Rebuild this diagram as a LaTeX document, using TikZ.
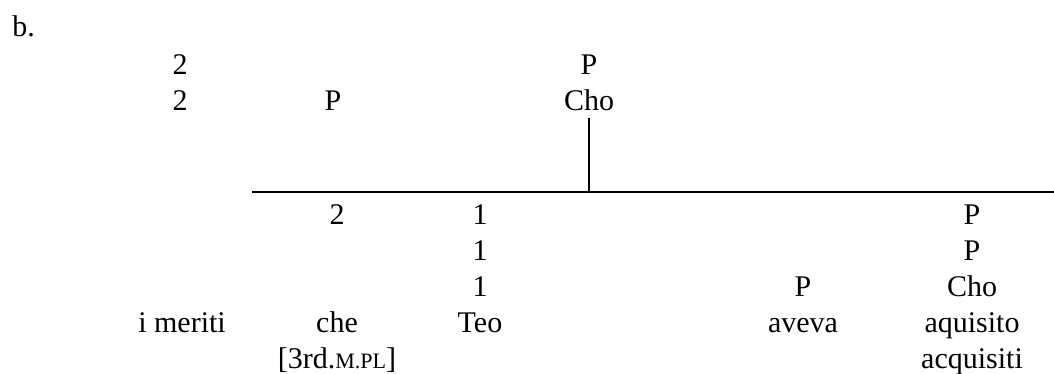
\documentclass[tikz,border=0pt]{standalone}
\usepackage{fontspec}
\setmainfont{Liberation Serif}
\newcommand{\fakesc}[1]{{\fontsize{11}{12}\selectfont #1}}
\begin{document}
\begin{tikzpicture}[x=0.5pt,y=-0.5pt,
  lbl/.style={anchor=base,inner sep=0pt,font=\fontsize{15}{18}\selectfont},
  rule/.style={line width=1.1pt}]
\useasboundingbox (0,0) rectangle (1054,374);
\node[lbl,anchor=base west] (b) at (12,37) {b.};
% top
\node[lbl] (t2a) at (180,75) {2};
\node[lbl] (t2b) at (180,111) {2};
\node[lbl] (tP) at (333,111) {P};
\node[lbl] (cP) at (589,75) {P};
\node[lbl] (cCho) at (589,111) {Cho};
% lines
\coordinate (hl) at (252,192);
\coordinate (hr) at (1054,192);
\coordinate (vt) at (589,118);
\coordinate (vb) at (589,192);
\draw[rule] (hl) -- (hr);
\draw[rule] (vt) -- (vb);
% bottom
\node[lbl] (b2) at (337,224) {2};
\node[lbl] (b1a) at (480,224) {1};
\node[lbl] (b1b) at (480,260) {1};
\node[lbl] (b1c) at (480,296) {1};
\node[lbl] (rPa) at (972,224) {P};
\node[lbl] (rPb) at (972,260) {P};
\node[lbl] (rCho) at (972,296) {Cho};
\node[lbl] (aP) at (803,296) {P};
\node[lbl] (im) at (182,332) {i meriti};
\node[lbl] (che) at (337,332) {che};
\node[lbl] (teo) at (480,332) {Teo};
\node[lbl] (avv) at (803,332) {aveva};
\node[lbl] (aq) at (972,332) {aquisito};
\node[lbl] (ft) at (337,368) {[3rd.\fakesc{M.PL}]};
\node[lbl] (acq) at (972,368) {acquisiti};
\end{tikzpicture}
\end{document}
